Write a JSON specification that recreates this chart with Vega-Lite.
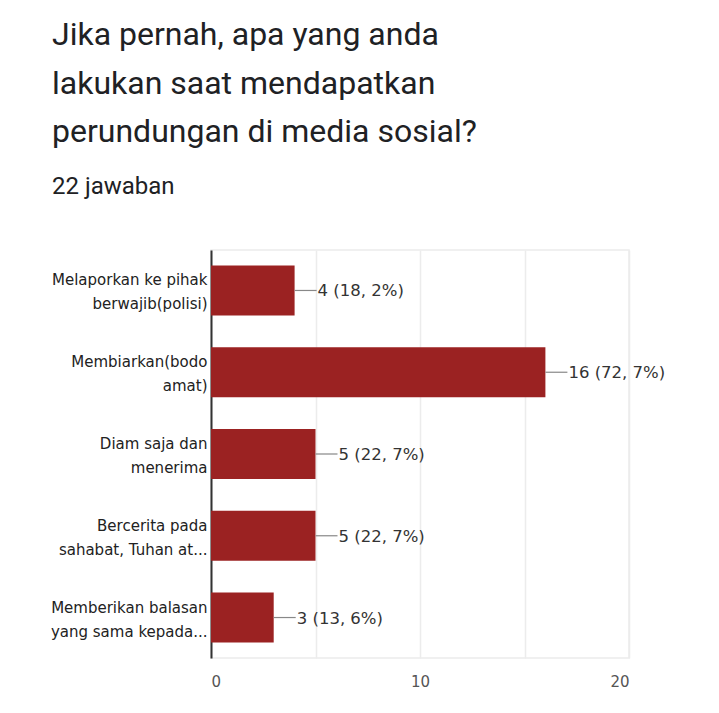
{
  "$schema": "https://vega.github.io/schema/vega-lite/v6.json",
  "autosize": "none",
  "width": 418,
  "height": 408,
  "padding": {"left": 211, "top": 250, "right": 90, "bottom": 55},
  "background": "white",
  "config": {
    "view": {"stroke": "#ececec", "strokeWidth": 1.5},
    "font": "DejaVu Sans"
  },
  "title": {
    "text": ["Jika pernah, apa yang anda", "lakukan saat mendapatkan", "perundungan di media sosial?"],
    "subtitle": "22 jawaban",
    "anchor": "start",
    "frame": "group",
    "dx": -159,
    "offset": 50,
    "font": "Roboto",
    "fontSize": 32,
    "fontWeight": "normal",
    "lineHeight": 48.5,
    "color": "#202124",
    "subtitleFont": "Roboto",
    "subtitleFontSize": 24,
    "subtitleColor": "#202124",
    "subtitlePadding": 26
  },
  "data": {
    "values": [
      {"jawaban": "Melaporkan ke pihak|berwajib(polisi)", "jumlah": 4, "teks": "4 (18, 2%)", "urut": 1},
      {"jawaban": "Membiarkan(bodo|amat)", "jumlah": 16, "teks": "16 (72, 7%)", "urut": 2},
      {"jawaban": "Diam saja dan|menerima", "jumlah": 5, "teks": "5 (22, 7%)", "urut": 3},
      {"jawaban": "Bercerita pada|sahabat,  Tuhan at...", "jumlah": 5, "teks": "5 (22, 7%)", "urut": 4},
      {"jawaban": "Memberikan balasan|yang sama kepada...", "jumlah": 3, "teks": "3 (13, 6%)", "urut": 5}
    ]
  },
  "encoding": {
    "y": {
      "field": "jawaban",
      "type": "nominal",
      "sort": {"field": "urut"},
      "scale": {"paddingInner": 0.39, "paddingOuter": 0.19},
      "axis": {
        "title": null,
        "ticks": false,
        "labelPadding": 4,
        "labelOffset": -10,
        "labelExpr": "split(datum.label, '|')",
        "labelFont": "DejaVu Sans",
        "labelFontSize": 15,
        "labelLineHeight": 24,
        "labelColor": "#222222",
        "labelLimit": 200,
        "domainColor": "#333333",
        "domainWidth": 2
      }
    }
  },
  "layer": [
    {
      "mark": {"type": "bar", "color": "#9b2222"},
      "encoding": {
        "x": {
          "field": "jumlah",
          "type": "quantitative",
          "scale": {"domain": [0, 20], "nice": false},
          "axis": {
            "title": null,
            "values": [0, 5, 10, 15, 20],
            "labelExpr": "datum.value % 10 == 0 ? datum.label : ''",
            "ticks": false,
            "domain": false,
            "gridColor": "#ececec",
            "gridWidth": 1.5,
            "labelFont": "DejaVu Sans",
            "labelFontSize": 15,
            "labelColor": "#555555",
            "labelPadding": 16
          }
        }
      }
    },
    {
      "mark": {"type": "rule", "color": "#888888", "strokeWidth": 1.2, "x2Offset": 22},
      "encoding": {
        "x": {"field": "jumlah", "type": "quantitative"},
        "x2": {"field": "jumlah"}
      }
    },
    {
      "mark": {"type": "text", "align": "left", "baseline": "middle", "dx": 23, "dy": 1, "font": "DejaVu Sans", "fontSize": 16.5, "color": "#333333"},
      "encoding": {
        "x": {"field": "jumlah", "type": "quantitative"},
        "text": {"field": "teks"}
      }
    }
  ]
}
